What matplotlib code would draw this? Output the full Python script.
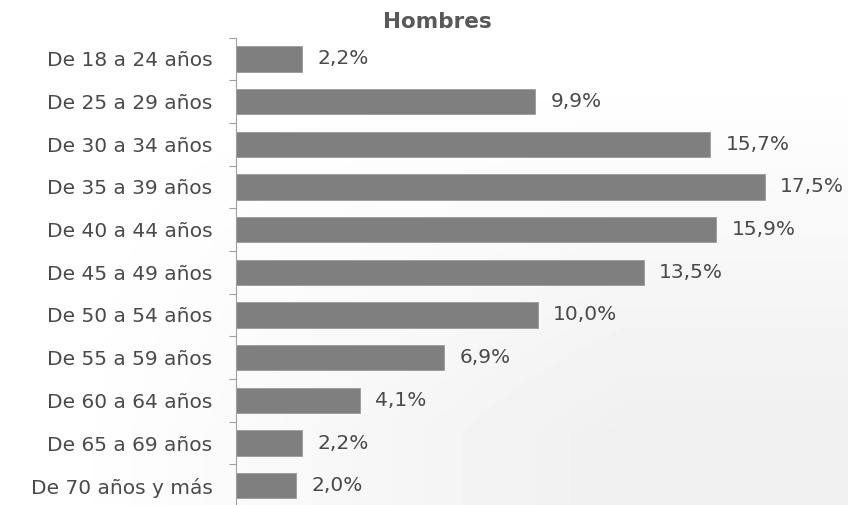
import matplotlib.pyplot as plt
import numpy as np

CATEGORIES = [
    "De 18 a 24 años",
    "De 25 a 29 años",
    "De 30 a 34 años",
    "De 35 a 39 años",
    "De 40 a 44 años",
    "De 45 a 49 años",
    "De 50 a 54 años",
    "De 55 a 59 años",
    "De 60 a 64 años",
    "De 65 a 69 años",
    "De 70 años y más",
]
VALUES = [2.2, 9.9, 15.7, 17.5, 15.9, 13.5, 10.0, 6.9, 4.1, 2.2, 2.0]
TITLE = "Hombres"

TEXT_COLOR = "#4a4a4a"
BAR_COLOR = "#7f7f7f"

plt.rcParams["font.family"] = ["DejaVu Sans"]

figure = plt.figure(figsize=(8.48, 5.05), dpi=100)

# faint background wash, white at the top-left, light grey at the bottom-right
background = figure.add_axes([0, 0, 1, 1], zorder=-1)
gx, gy = np.meshgrid(np.linspace(0, 1, 200), np.linspace(0, 1, 120))
shade = 1.0 - 0.06 * np.clip(gy * 1.4 - 0.2, 0, 1) * np.clip(gx * 1.5 - 0.1, 0, 1)
background.imshow(shade, cmap="gray", vmin=0, vmax=1, aspect="auto", extent=[0, 1, 0, 1])
background.axis("off")

axis = figure.add_axes([236 / 848, -0.004, 612 / 848, 0.9295])
axis.patch.set_alpha(0)

positions = np.arange(len(CATEGORIES))
bars = axis.barh(positions, VALUES, height=0.6, color=BAR_COLOR,
                 edgecolor="#9a9a9a", linewidth=0.6)
axis.set_ylim(len(CATEGORIES) - 0.5, -0.5)
axis.set_xlim(0, 612 / 30.2)

for bar, value in zip(bars, VALUES):
    axis.annotate(f"{value:.1f}%".replace(".", ","),
                  (bar.get_width(), bar.get_y() + bar.get_height() / 2),
                  xytext=(11, 0), textcoords="offset points",
                  ha="left", va="center", fontsize=14.5, color=TEXT_COLOR)

axis.set_yticks(positions)
axis.set_yticklabels(CATEGORIES, fontsize=14.5, color=TEXT_COLOR)
axis.tick_params(axis="y", which="major", length=0, pad=17)
axis.set_yticks(np.arange(-0.5, len(CATEGORIES), 1), minor=True)
axis.tick_params(axis="y", which="minor", length=5, width=0.8, color="#a0a0a0",
                 direction="out")
axis.set_xticks([])

for side in ["top", "right", "bottom"]:
    axis.spines[side].set_visible(False)
axis.spines["left"].set_color("#a0a0a0")
axis.spines["left"].set_linewidth(0.8)

figure.text(437 / 848, 1 - 22 / 505, TITLE, ha="center", va="center",
            fontsize=15.5, fontweight="bold", color="#595959")

figure.savefig("out.png", dpi=100)
